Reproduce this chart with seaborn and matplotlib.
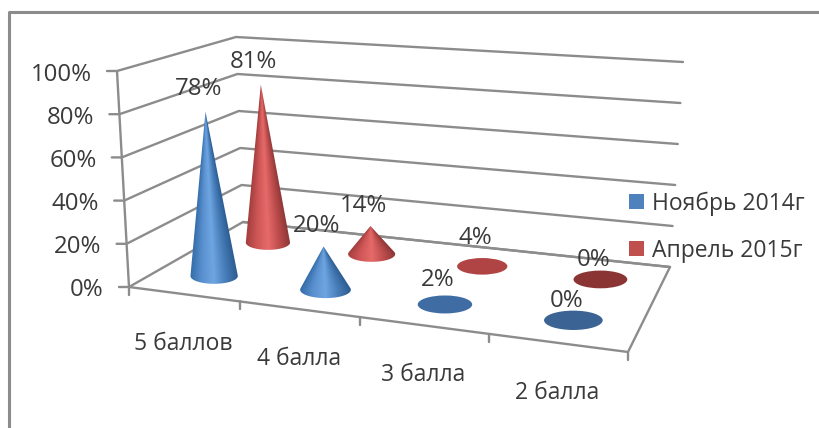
import numpy as np
import pandas as pd
import seaborn as sns
import matplotlib
matplotlib.use('Agg')
import matplotlib.pyplot as plt
from matplotlib.patches import Patch, PathPatch, Ellipse
from matplotlib.path import Path

categories = ['5 баллов', '4 балла', '3 балла', '2 балла']
series_names = ['Ноябрь 2014г', 'Апрель 2015г']
nov_2014 = [78, 20, 2, 0]
apr_2015 = [81, 14, 4, 0]
value_ticks = [0, 20, 40, 60, 80, 100]

sns.set_theme(style='white')
plt.rcParams['font.family'] = ['Open Sans', 'DejaVu Sans']

GRID = '#8c8c8c'
TEXT = '#3a3a3a'
blue = sns.blend_palette(['#336da8', '#5a90cf', '#6ea6e2', '#477db8', '#2c5c92'], as_cmap=True)
red = sns.blend_palette(['#a53f3f', '#d05757', '#e66a6a', '#bd4c4c', '#8a3535'], as_cmap=True)
legend_colors = ['#4f81bd', '#c0504d']
flat_colors = {(0, 2): '#3f6ca3', (0, 3): '#3b6394', (1, 2): '#b04444', (1, 3): '#8a3434'}


def homography(quad):
    # unit square -> four picture corners (FL, FR, BR, BL)
    src = [(0, 0), (1, 0), (1, 1), (0, 1)]
    rows, rhs = [], []
    for (u, v), (x, y) in zip(src, quad):
        rows.append([u, v, 1, 0, 0, 0, -u * x, -v * x])
        rows.append([0, 0, 0, u, v, 1, -u * y, -v * y])
        rhs += [x, y]
    return np.append(np.linalg.solve(np.array(rows, float), np.array(rhs, float)), 1).reshape(3, 3)


floor_h = homography([(129, 287), (628, 352), (670, 267), (243, 222)])
roof_h = homography([(117, 71), (655, 113), (683, 62), (236, 37)])


def proj(x, z, v=0.0):
    p = np.array([x, z, 1.0])
    a = floor_h @ p
    b = roof_h @ p
    return (a[:2] / a[2]) * (1 - v) + (b[:2] / b[2]) * v


def line(ax, pts, lw=1.7):
    pts = np.array(pts)
    df = pd.DataFrame({'px': pts[:, 0], 'py': pts[:, 1]})
    sns.lineplot(data=df, x='px', y='py', sort=False, estimator=None, color=GRID,
                 linewidth=lw, ax=ax, legend=False)


def cone(ax, cx, cy, a, b, ax_, ay_, cmap, zorder):
    p = np.array([(ax_ - cx) / a, (ay_ - cy) / b])
    r = np.hypot(*p)
    phi = np.arctan2(p[1], p[0])
    d = np.arccos(1 / r)
    th = np.linspace(phi + d, phi + 2 * np.pi - d, 60)
    verts = [(cx + a * np.cos(t), cy + b * np.sin(t)) for t in th] + [(ax_, ay_)]
    patch = PathPatch(Path(verts + [verts[0]], closed=True), fc='none', ec='none', zorder=zorder)
    ax.add_patch(patch)
    x0, x1 = cx - a - 2, cx + a + 2
    y0, y1 = ay_ - 1, cy + b + 2
    xs = np.linspace(x0, x1, int((x1 - x0) * 3))
    ys = np.linspace(y0, y1, int((y1 - y0) * 2))
    X, Y = np.meshgrid(xs, ys)
    t = np.clip((Y - ay_) / (cy - ay_), 0.01, 1)
    u = (X - (ax_ + t * (cx - ax_))) / (a * t)
    im = ax.imshow((np.clip(u, -1, 1) + 1) / 2, extent=(x0, x1, y1, y0), cmap=cmap, vmin=0, vmax=1,
                   aspect='auto', interpolation='bilinear', zorder=zorder)
    im.set_clip_path(patch)


fig, ax = plt.subplots(figsize=(8.2, 4.28), dpi=100)
fig.subplots_adjust(0, 0, 1, 1)

# outer frame
line(ax, [(9, 428), (9, 12), (820, 12)], lw=2.2)

# walls and gridlines
for v in value_ticks:
    f = v / 100
    line(ax, [proj(0, 0, f) - (10, 0), proj(0, 0, f), proj(0, 1, f), proj(1, 1, f)])
    x, y = proj(0, 0, f)
    ax.text(x - 25, y + 3.5, f'{v}%', ha='right', va='center', fontsize=17.3, color=TEXT)
line(ax, [proj(0, 0, 0), proj(0, 0, 1)])

# floor
line(ax, [proj(0, 1), proj(1, 1), proj(1, 0), proj(0, 0)])
for i in range(len(categories) + 1):
    x, y = proj(i / 4, 0)
    line(ax, [(x, y), (x, y + 8)])
for i, name in enumerate(categories):
    x, y = proj((i + 0.5) / 4, 0)
    ax.text(x, y + 50, name, ha='center', va='center', fontsize=16.5, color=TEXT)

# cones, back row first
depth = [0.24, 0.74]
x_shift = [0.003, 0.004]
for s, vals, cmap in [(1, apr_2015, red), (0, nov_2014, blue)]:
    for i, val in enumerate(vals):
        xf = (i + 0.5) / 4 + x_shift[s]
        cx, cy = proj(xf, depth[s])
        w = proj(xf + 0.055, depth[s])[0] - proj(xf - 0.055, depth[s])[0]
        a, b = w / 2, w * 0.165
        tx, ty = proj(xf, depth[s], val / 100)
        z = 5 + 2 * (1 - s) + 0.1 * i
        if (s, i) in flat_colors:
            ax.add_patch(Ellipse((cx, cy), 2 * a, 2 * b, fc=flat_colors[(s, i)], ec='none', zorder=z))
        else:
            cone(ax, cx, cy, a, b, tx, ty, cmap, z)
        ax.text(tx - 7, ty - 19.5 - 0.04 * val, f'{val}%', ha='center', va='center', fontsize=17.3,
                color=TEXT, zorder=20)

handles = [Patch(fc=c, ec='none') for c in legend_colors]
ax.legend(handles, series_names, loc='center left', bbox_to_anchor=(629, 227), bbox_transform=ax.transData,
          frameon=False, fontsize=16.5, labelcolor=TEXT, handlelength=0.65, handleheight=0.65,
          handletextpad=0.35, labelspacing=1.0, borderpad=0, borderaxespad=0)

ax.set_xlim(0, 820)
ax.set_ylim(428, 0)
ax.axis('off')
fig.savefig('out.png', dpi=100, facecolor='white')
